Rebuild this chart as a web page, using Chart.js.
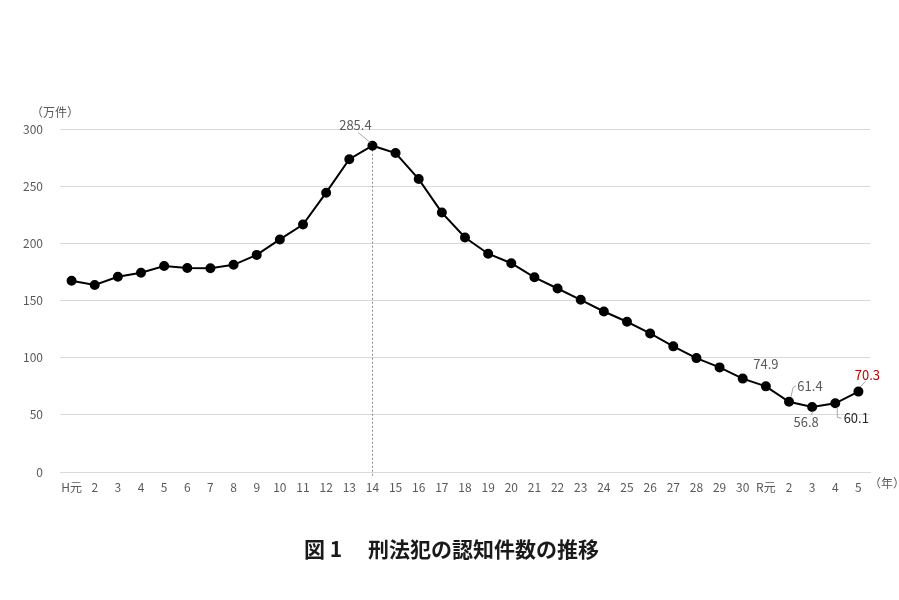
<!DOCTYPE html>
<html>
<head>
<meta charset="utf-8">
<script src="https://cdn.jsdelivr.net/npm/chart.js@4.4.0/dist/chart.umd.min.js"></script>
<style>
  html, body { margin: 0; padding: 0; background: #ffffff; }
  #wrap { width: 899px; height: 600px; }
</style>
</head>
<body>
<div id="wrap"><canvas id="c" width="899" height="600"></canvas></div>
<script>
// ---- data ----
const categories = ['H元','2','3','4','5','6','7','8','9','10','11','12','13','14','15','16','17','18','19','20','21','22','23','24','25','26','27','28','29','30','R元','2','3','4','5'];
const values = [167.3,163.6,170.7,174.2,180.1,178.4,178.2,181.2,189.9,203.4,216.5,244.3,273.6,285.4,279.0,256.2,226.9,205.1,190.9,182.6,170.3,160.5,150.6,140.4,131.4,121.2,109.9,99.6,91.5,81.7,74.9,61.4,56.8,60.1,70.3];
const yTicks = [0,50,100,150,200,250,300];
const labeledIdx = [13,30,31,32,33,34];
const peakIdx = 13;
const titleText = '図 1　 刑法犯の認知件数の推移';
const yUnit = '（万件）';
const xUnit = '（年）';

const FONT = "'Noto Sans CJK JP', 'Noto Sans', sans-serif";

// label placement styles (dx, dy from point, leader polyline relative to point)
const labelStyle = {
  13: {dx:-17, dy:-21, color:'#595959', lead:[[-14,-13],[-2,-3]]},
  30: {dx:0, dy:-22, color:'#595959', lead:null},
  31: {dx:21, dy:-16, color:'#595959', lead:[[2,-5],[4,-14],[7,-16]]},
  32: {dx:-6, dy:15, color:'#595959', lead:[[1,4],[-1,8]]},
  33: {dx:21, dy:15, color:'#262626', lead:[[2,4],[2,14],[6,15]]},
  34: {dx:9, dy:-17, color:'#c00000', lead:[[2,-5],[7,-10]]}
};

const extras = {
  id: 'extras',
  beforeDatasetsDraw(chart) {
    const ctx = chart.ctx;
    const xs = chart.scales.x, ys = chart.scales.y;
    const px = xs.getPixelForValue(peakIdx);
    const py = ys.getPixelForValue(values[peakIdx]);
    ctx.save();
    ctx.strokeStyle = '#8c8c8c';
    ctx.lineWidth = 1;
    ctx.setLineDash([2,2]);
    ctx.beginPath();
    ctx.moveTo(Math.round(px)+0.5, py);
    ctx.lineTo(Math.round(px)+0.5, chart.chartArea.bottom + 4);
    ctx.stroke();
    ctx.restore();
  },
  afterDatasetsDraw(chart) {
    const ctx = chart.ctx;
    const xs = chart.scales.x, ys = chart.scales.y;
    const ca = chart.chartArea;
    ctx.save();
    ctx.font = '13px ' + FONT;
    ctx.textAlign = 'center';
    ctx.textBaseline = 'middle';
    labeledIdx.forEach(i => {
      const s = labelStyle[i];
      const x = xs.getPixelForValue(i);
      const y = ys.getPixelForValue(values[i]);
      if (s.lead) {
        ctx.strokeStyle = '#a6a6a6';
        ctx.lineWidth = 1;
        ctx.setLineDash([]);
        ctx.beginPath();
        s.lead.forEach((p, k) => {
          if (k === 0) ctx.moveTo(x + p[0], y + p[1]); else ctx.lineTo(x + p[0], y + p[1]);
        });
        ctx.stroke();
      }
      ctx.fillStyle = s.color;
      ctx.fillText(values[i].toFixed(1), x + s.dx, y + s.dy);
    });
    // unit labels
    ctx.font = '12px ' + FONT;
    ctx.fillStyle = '#595959';
    ctx.textAlign = 'center';
    ctx.fillText(yUnit, ca.left - 5, ca.top - 17);
    ctx.textAlign = 'left';
    ctx.fillText(xUnit, ca.right - 1, ca.bottom + 11);
    // title
    ctx.font = 'bold 21px ' + FONT;
    ctx.fillStyle = '#1a1a1a';
    ctx.textAlign = 'center';
    ctx.fillText(titleText, chart.width / 2 + 2, ca.bottom + 77);
    ctx.restore();
  }
};

new Chart(document.getElementById('c'), {
  type: 'line',
  data: {
    labels: categories,
    datasets: [{
      data: values,
      borderColor: '#000000',
      backgroundColor: '#000000',
      borderWidth: 2,
      pointRadius: 4,
      pointHoverRadius: 4,
      pointBackgroundColor: '#000000',
      pointBorderColor: '#000000',
      tension: 0,
      fill: false
    }]
  },
  options: {
    responsive: false,
    animation: false,
    devicePixelRatio: 1,
    layout: { padding: { top: 129, left: 0, right: 29, bottom: 98 } },
    plugins: {
      legend: { display: false },
      tooltip: { enabled: false },
      title: { display: false }
    },
    scales: {
      x: {
        type: 'category',
        offset: true,
        grid: { display: false, drawTicks: false },
        border: { display: true, color: '#d9d9d9', width: 1 },
        ticks: {
          color: '#595959',
          font: { family: FONT, size: 12 },
          padding: 8,
          maxRotation: 0,
          autoSkip: false
        },
        afterFit(scale) { scale.height = 30; }
      },
      y: {
        min: 0,
        max: 300,
        afterBuildTicks(scale) { scale.ticks = yTicks.map(v => ({ value: v })); },
        grid: { color: '#d9d9d9', lineWidth: 1, drawTicks: false },
        border: { display: false },
        ticks: {
          color: '#595959',
          font: { family: FONT, size: 12 },
          padding: 17
        },
        afterFit(scale) { scale.width = 60; }
      }
    }
  },
  plugins: [extras]
});
</script>
</body>
</html>
